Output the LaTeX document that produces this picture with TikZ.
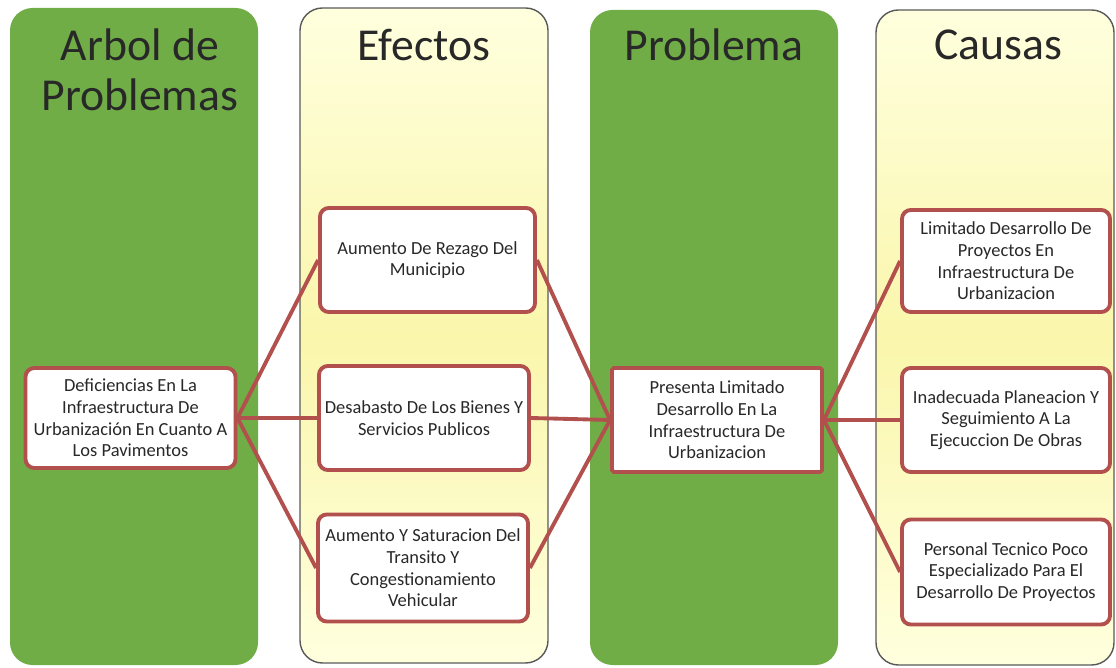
\documentclass[tikz,border=0pt]{standalone}
\usepackage{fontspec}
\setmainfont{Carlito}
\usetikzlibrary{positioning}

\definecolor{bandgreen}{RGB}{112,173,71}
\definecolor{bandyellow}{RGB}{250,246,172}
\definecolor{paleyellow}{RGB}{255,255,222}
\definecolor{boxred}{RGB}{178,80,78}
\definecolor{txtgray}{RGB}{40,40,40}

\tikzset{
  band/.style={rounded corners=0.45cm},
  greenband/.style={band, fill=bandgreen},
  yellowband/.style={band, draw=black!65, line width=0.8pt,
    top color=paleyellow, bottom color=paleyellow, middle color=bandyellow},
  headtext/.style={font=\fontsize{26}{28.5}\selectfont, text=txtgray, align=center},
  itembox/.style={draw=boxred, line width=2.2pt, fill=white, rounded corners=5pt,
    minimum width=4.2cm, minimum height=2.08cm, align=center,
    font=\fontsize{10.5}{12.3}\selectfont, text=txtgray},
  rama/.style={draw=boxred, line width=2.2pt}
}

\begin{document}
\begin{tikzpicture}
    \useasboundingbox (0, 0) rectangle (22.32, 13.34);

    % columnas
    \fill[greenband] (0.20, 0.04) rectangle (5.16, 13.18);
    \draw[yellowband] (6.00, 0.08) rectangle (10.96, 13.18);
    \fill[greenband] (11.80, 0.04) rectangle (16.76, 13.14);
    \draw[yellowband] (17.52, 0.04) rectangle (22.28, 13.14);

    \node[headtext] (tarbol) at (2.80, 11.94) {Arbol de\\Problemas};
    \node[headtext] (tefectos) at (8.48, 12.44) {Efectos};
    \node[headtext] (tproblema) at (14.28, 12.44) {Problema};
    \node[headtext] (tcausas) at (19.96, 12.44) {Causas};

    % cajas
    \node[itembox, minimum height=2.0cm] (arbol) at (2.61, 4.98)
        {Deficiencias En La\\Infraestructura De\\Urbanización En Cuanto A\\Los Pavimentos};

    \node[itembox, minimum width=4.3cm] (efecto1) at (8.55, 8.14)
        {Aumento De Rezago Del\\Municipio};
    \node[itembox] (efecto2) at (8.48, 4.98)
        {Desabasto De Los Bienes Y\\Servicios Publicos};
    \node[itembox, minimum height=2.14cm] (efecto3) at (8.46, 1.98)
        {Aumento Y Saturacion Del\\Transito Y\\Congestionamiento\\Vehicular};

    \node[itembox, rounded corners=1pt] (problema) at (14.34, 4.94)
        {Presenta Limitado\\Desarrollo En La\\Infraestructura De\\Urbanizacion};

    \node[itembox, minimum width=4.16cm, minimum height=2.04cm] (causa1) at (20.12, 8.12)
        {Limitado Desarrollo De\\Proyectos En\\Infraestructura De\\Urbanizacion};
    \node[itembox, minimum width=4.16cm] (causa2) at (20.12, 4.94)
        {Inadecuada Planeacion Y\\Seguimiento A La\\Ejecuccion De Obras};
    \node[itembox, minimum width=4.16cm, minimum height=2.1cm] (causa3) at (20.12, 1.90)
        {Personal Tecnico Poco\\Especializado Para El\\Desarrollo De Proyectos};

    % ramas
    \foreach \e in {efecto1, efecto2, efecto3} {
        \draw[rama] (arbol.east) -- (\e.west);
        \draw[rama] (\e.east) -- (problema.west);
    }
    \foreach \c in {causa1, causa2, causa3}
        \draw[rama] (problema.east) -- (\c.west);
\end{tikzpicture}
\end{document}
